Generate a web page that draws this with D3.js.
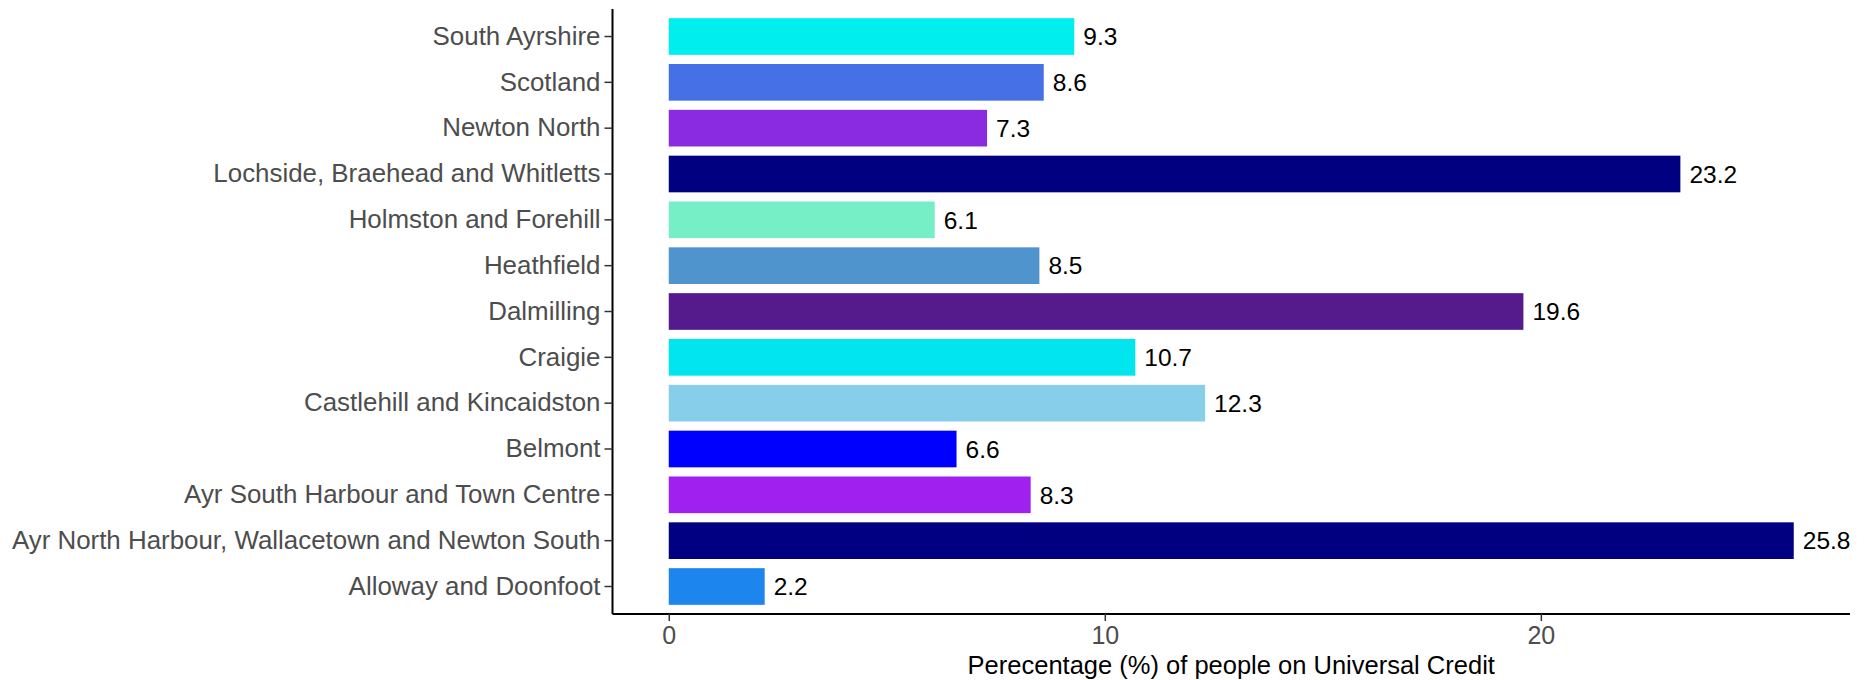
<!DOCTYPE html>
<html>
<head>
<meta charset="utf-8">
<script src="https://cdn.jsdelivr.net/npm/d3@7"></script>
<style>
  html, body { margin: 0; padding: 0; background: #ffffff; }
  svg { display: block; font-family: "Liberation Sans", Arial, Helvetica, sans-serif; }
</style>
</head>
<body>
<svg id="chart" width="1872" height="680"></svg>
<script>
// Categories from top to bottom as drawn
const categories = [
  "South Ayrshire",
  "Scotland",
  "Newton North",
  "Lochside, Braehead and Whitletts",
  "Holmston and Forehill",
  "Heathfield",
  "Dalmilling",
  "Craigie",
  "Castlehill and Kincaidston",
  "Belmont",
  "Ayr South Harbour and Town Centre",
  "Ayr North Harbour, Wallacetown and Newton South",
  "Alloway and Doonfoot"
];
const values = [9.3, 8.6, 7.3, 23.2, 6.1, 8.5, 19.6, 10.7, 12.3, 6.6, 8.3, 25.8, 2.2];
const colors = [
  "#00EEEE", "#4570E6", "#8A2BE2", "#000080", "#76EEC6", "#4F94CD", "#551A8B",
  "#00E5EE", "#87CEEB", "#0000FF", "#A020F0", "#000080", "#1C86EE"
];
const xTicks = [0, 10, 20];
const xTitle = "Perecentage (%) of people on Universal Credit";

const data = categories.map((c, i) => ({ cat: c, value: values[i], color: colors[i] }));

const svg = d3.select("#chart");
const pLeft = 612.5, pRight = 1850, pTop = 9, pBottom = 614;

const maxV = d3.max(values);
const x = d3.scaleLinear()
  .domain([-0.05 * maxV, maxV * 1.05])
  .range([pLeft, pRight]);

const y = d3.scaleBand()
  .domain(categories)
  .range([pTop, pBottom])
  .paddingInner(0.2)
  .paddingOuter(0.2);

// Bars
svg.append("g").selectAll("rect")
  .data(data)
  .join("rect")
  .attr("x", x(0))
  .attr("y", d => y(d.cat))
  .attr("width", d => x(d.value) - x(0))
  .attr("height", y.bandwidth())
  .attr("fill", d => d.color);

// Value labels
svg.append("g").selectAll("text")
  .data(data)
  .join("text")
  .attr("x", d => x(d.value) + 9)
  .attr("y", d => y(d.cat) + y.bandwidth() / 2)
  .attr("dy", "0.36em")
  .attr("font-size", 24.5)
  .attr("fill", "#000000")
  .text(d => d.value.toFixed(1));

// Y axis
const yAxis = svg.append("g")
  .attr("transform", `translate(${pLeft},0)`)
  .call(d3.axisLeft(y).tickSize(8).tickPadding(4).tickSizeOuter(0));
yAxis.select(".domain").attr("stroke", "#000").attr("stroke-width", 2)
  .attr("d", `M0,${pTop}V${pBottom}`);
yAxis.selectAll(".tick line").attr("stroke", "#333").attr("stroke-width", 1.5);
yAxis.selectAll(".tick text")
  .attr("font-size", 25.9)
  .attr("fill", "#4D4D4D")
  .attr("font-family", "Liberation Sans, Arial, sans-serif");

// X axis
const xAxis = svg.append("g")
  .attr("transform", `translate(0,${pBottom})`)
  .call(d3.axisBottom(x).tickValues(xTicks).tickFormat(d3.format("d")).tickSize(7).tickPadding(5).tickSizeOuter(0));
xAxis.select(".domain").attr("stroke", "#000").attr("stroke-width", 2)
  .attr("d", `M${pLeft},0H${pRight}`);
xAxis.selectAll(".tick line").attr("stroke", "#333").attr("stroke-width", 1.5);
xAxis.selectAll(".tick text")
  .attr("font-size", 25)
  .attr("fill", "#4D4D4D")
  .attr("font-family", "Liberation Sans, Arial, sans-serif");

// X title
svg.append("text")
  .attr("x", (pLeft + pRight) / 2)
  .attr("y", 674)
  .attr("text-anchor", "middle")
  .attr("font-size", 25.5)
  .attr("fill", "#000")
  .text(xTitle);
</script>
</body>
</html>
